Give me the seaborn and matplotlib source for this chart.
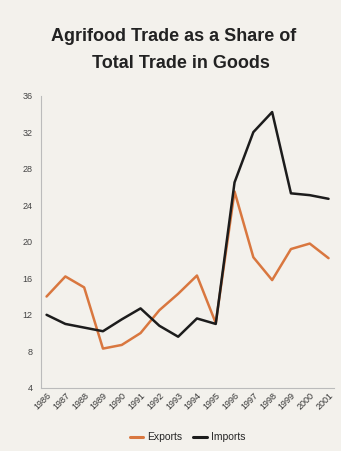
import pandas as pd
import matplotlib
matplotlib.use('Agg')
import matplotlib.pyplot as plt
import seaborn as sns

# 농식품 무역 비중 데이터
years = [1986, 1987, 1988, 1989, 1990, 1991, 1992, 1993,
         1994, 1995, 1996, 1997, 1998, 1999, 2000, 2001]
exports = [14.0, 16.2, 15.0, 8.3, 8.7, 10.0, 12.5, 14.3,
           16.3, 11.1, 25.5, 18.3, 15.8, 19.2, 19.8, 18.2]
imports = [12.0, 11.0, 10.6, 10.2, 11.5, 12.7, 10.8, 9.6,
           11.6, 11.0, 26.5, 32.0, 34.2, 25.3, 25.1, 24.7]

df = pd.DataFrame({'year': years * 2,
                   'value': exports + imports,
                   'series': ['Exports'] * len(years) + ['Imports'] * len(years)})

sns.set_style('white')
plt.rcParams['font.family'] = ['Liberation Sans', 'DejaVu Sans']

bg = '#f3f1ec'
fig = plt.figure(figsize=(3.41, 4.51), dpi=100, facecolor=bg)
ax = fig.add_axes([0.12, 0.14, 0.86, 0.648])
ax.set_facecolor(bg)

sns.lineplot(data=df, x='year', y='value', hue='series',
             palette={'Exports': '#d9773f', 'Imports': '#1c1c1c'},
             linewidth=1.8, ax=ax, legend=False)

ax.set_xlim(1985.7, 2001.3)
ax.set_ylim(4, 36)
ax.set_yticks(range(4, 37, 4))
ax.set_xticks(years)
ax.set_xticklabels([str(y) for y in years], rotation=45, ha='right',
                   rotation_mode='anchor', fontsize=6.5, color='#333333')
ax.tick_params(axis='y', labelsize=6.5, colors='#444444', length=0, pad=6)
ax.tick_params(axis='x', length=0, pad=2)
ax.set_xlabel('')
ax.set_ylabel('')

for side in ['top', 'right']:
    ax.spines[side].set_visible(False)
for side in ['left', 'bottom']:
    ax.spines[side].set_color('#bbbbbb')
    ax.spines[side].set_linewidth(0.8)

fig.text(0.51, 0.91, 'Agrifood Trade as a Share of', ha='center',
         fontsize=13, fontweight='bold', color='#222222')
fig.text(0.53, 0.85, 'Total Trade in Goods', ha='center',
         fontsize=13, fontweight='bold', color='#222222')

handles = [plt.Line2D([0], [0], color='#d9773f', lw=2.2),
           plt.Line2D([0], [0], color='#1c1c1c', lw=2.2)]
fig.legend(handles, ['Exports', 'Imports'], loc='center',
           bbox_to_anchor=(0.55, 0.03), ncol=2, frameon=False,
           fontsize=7.5, handlelength=1.3, columnspacing=1.0, handletextpad=0.4)

fig.savefig('out.png', dpi=100, facecolor=bg)
